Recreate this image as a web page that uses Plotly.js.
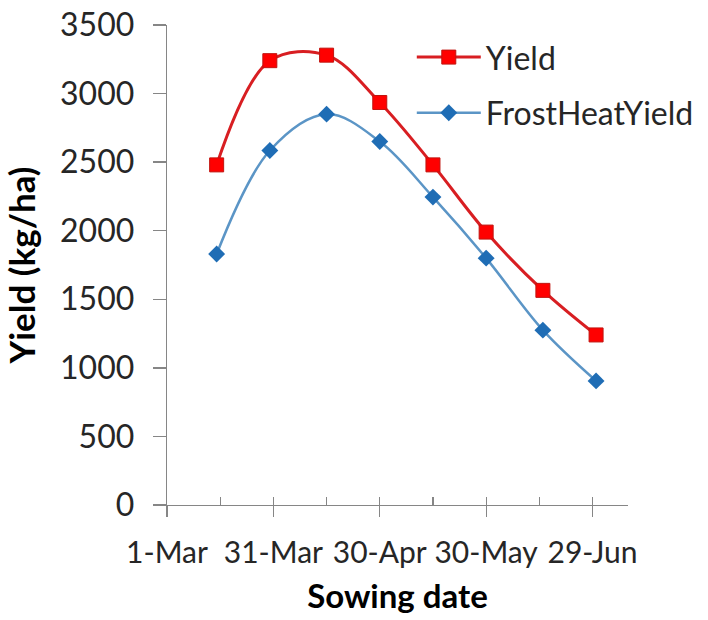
<!DOCTYPE html>
<html>
<head>
<meta charset="utf-8">
<script src="https://cdn.plot.ly/plotly-3.0.1.min.js"></script>
<style>html,body{margin:0;padding:0;background:#fff;}#chart{width:708px;height:620px;}</style>
</head>
<body>
<div id="chart"></div>
<script>
// Data
var sowingDates = ['2013-03-15','2013-03-30','2013-04-15','2013-04-30','2013-05-15','2013-05-30','2013-06-15','2013-06-30'];
var yieldValues = [2480, 3240, 3280, 2935, 2480, 1990, 1565, 1240];
var frostHeatYieldValues = [1830, 2585, 2850, 2650, 2245, 1800, 1275, 905];
var tickDates = ['2013-03-01','2013-03-31','2013-04-30','2013-05-30','2013-06-29'];
var tickLabels = ['1-Mar','31-Mar','30-Apr','30-May','29-Jun'];
var minorTickDates = ['2013-03-16','2013-04-15','2013-05-15','2013-06-14'];
var yTicks = [0, 500, 1000, 1500, 2000, 2500, 3000, 3500];

var FONT = 'Lato, "Liberation Sans", sans-serif';
var AX = '#868686';

var traces = [
  {
    x: sowingDates, y: yieldValues, name: 'Yield', type: 'scatter', mode: 'lines+markers',
    line: {color: '#D81E22', width: 3, shape: 'spline', smoothing: 1},
    marker: {symbol: 'square', size: 14, color: '#FF0000', line: {color: '#C0140F', width: 1}},
    legendgroup: 'a'
  },
  {
    x: sowingDates, y: frostHeatYieldValues, name: 'FrostHeatYield', type: 'scatter', mode: 'lines+markers',
    line: {color: '#5B95C6', width: 2.5, shape: 'spline', smoothing: 1},
    marker: {symbol: 'diamond', size: 13, color: '#1F6DB5', line: {width: 0}},
    legendgroup: 'b'
  },
  // invisible trace to carry the inside half of the cross ticks
  {
    x: [tickDates[0]], y: [0], xaxis: 'x2', yaxis: 'y', mode: 'markers',
    marker: {opacity: 0}, showlegend: false, hoverinfo: 'skip'
  }
];

var xr = ['2013-03-01', '2013-07-09'];
var layout = {
  width: 708, height: 620,
  margin: {l: 167, r: 80, t: 25, b: 115, autoexpand: false},
  paper_bgcolor: '#fff', plot_bgcolor: '#fff',
  font: {family: FONT, color: '#262626', size: 32},
  showlegend: true,
  legend: {
    x: 0.531, y: 0.99, xanchor: 'left', yanchor: 'top',
    traceorder: 'grouped', tracegroupgap: 11,
    font: {family: FONT, size: 32, color: '#262626'},
    bgcolor: 'rgba(0,0,0,0)', itemwidth: 64
  },
  xaxis: {
    type: 'date', range: xr, tickmode: 'array', tickvals: tickDates, ticktext: tickLabels,
    tickangle: 0,
    showgrid: false, zeroline: false, showline: true, linecolor: AX, linewidth: 1.3,
    ticks: 'outside', ticklen: 11, tickcolor: AX, tickwidth: 1.3, ticklabelstandoff: 10,
    tickfont: {family: FONT, size: 30, color: '#262626'},
    title: {text: '<b>Sowing date</b>', font: {family: FONT, size: 33, color: '#000'}, standoff: 16},
    minor: {tickmode: 'array', tickvals: minorTickDates, ticks: 'inside', ticklen: 8, tickcolor: AX, tickwidth: 1.3, showgrid: false}
  },
  xaxis2: {
    type: 'date', range: xr, overlaying: 'x', anchor: 'y', tickmode: 'array', tickvals: tickDates,
    showticklabels: false, showgrid: false, zeroline: false, showline: false,
    ticks: 'inside', ticklen: 8, tickcolor: AX, tickwidth: 1.3
  },
  yaxis: {
    range: [0, 3500], tickmode: 'array', tickvals: yTicks,
    showgrid: false, zeroline: false, showline: true, linecolor: AX, linewidth: 1.3,
    ticks: 'outside', ticklen: 13, tickcolor: AX, tickwidth: 1.3, ticklabelstandoff: 12,
    tickfont: {family: FONT, size: 32, color: '#262626'},
    title: {text: '<b>Yield (kg/ha)</b>', font: {family: FONT, size: 35, color: '#000'}, standoff: 18}
  }
};

Plotly.newPlot('chart', traces, layout, {displayModeBar: false, staticPlot: true});
</script>
</body>
</html>
